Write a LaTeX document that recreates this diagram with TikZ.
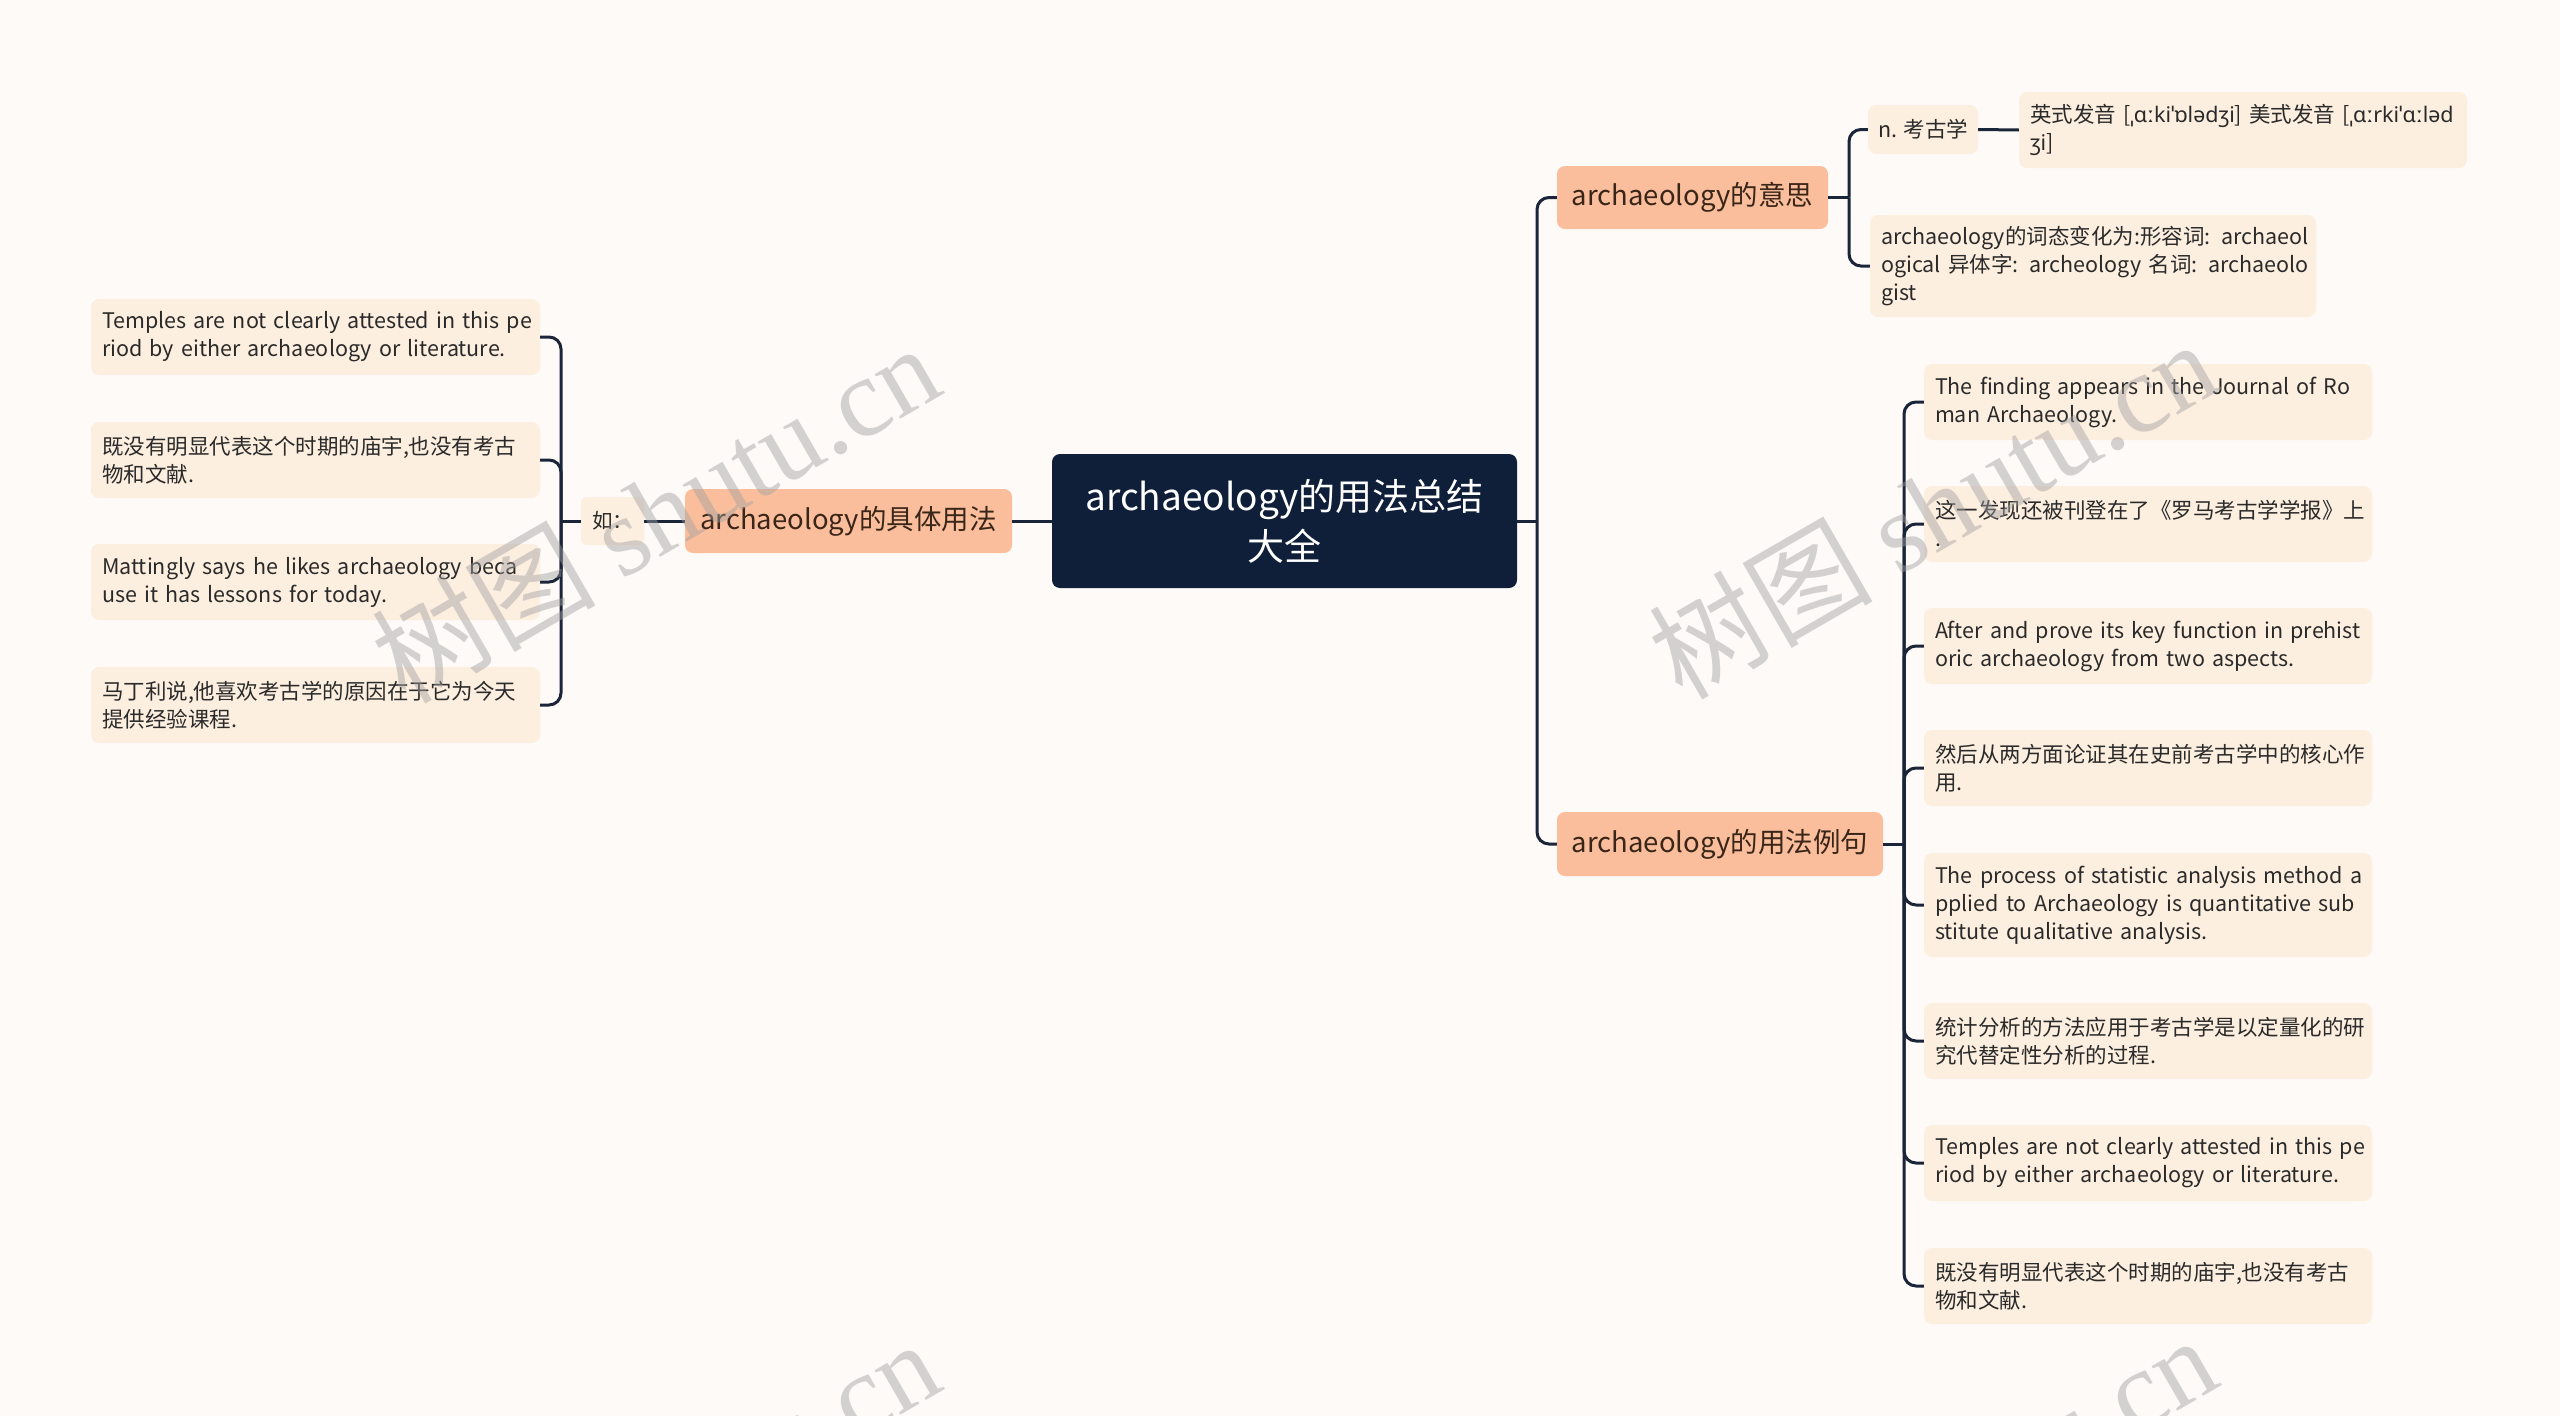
\documentclass[tikz,border=0pt]{standalone}
\usepackage{fontspec}
\setmainfont{Noto Sans CJK SC}
\newfontfamily\ipafont{Noto Sans}
\newfontfamily\wmserif{Liberation Serif}
\newfontfamily\wmcjk{Noto Sans CJK SC}
\newcommand\keepline[1]{\mbox{#1}}
\hfuzz=40pt
\definecolor{bgc}{HTML}{FEFAF8}
\definecolor{leafc}{HTML}{FDEFE0}
\definecolor{branchc}{HTML}{FBBE9C}
\definecolor{rootc}{HTML}{0F1F3A}
\definecolor{linec}{HTML}{1B2539}
\definecolor{textc}{HTML}{2A2A2A}
\definecolor{btextc}{HTML}{3A2618}
\definecolor{wmc}{HTML}{A0A0A0}
\begin{document}
\begin{tikzpicture}[x=1pt,y=-1pt,
  conn/.style={draw=linec, line width=3pt, rounded corners=12pt},
  leaf/.style={fill=leafc, rounded corners=8pt, text=textc,
    font=\fontsize{21.5}{28}\selectfont, align=left, inner xsep=11pt,
    inner ysep=3pt, text width=#1},
  leaf/.default=426pt,
  branch/.style={fill=branchc, rounded corners=8pt, text=btextc,
    font=\fontsize{27.5}{32}\selectfont, inner sep=0pt},
  rootbox/.style={fill=rootc, rounded corners=8pt, text=white,
    font=\fontsize{37}{50}\selectfont, align=center, inner sep=0pt},
  wm/.style={text=wmc, opacity=0.45, rotate=30, inner sep=0pt}]
\fill[bgc] (0,0) rectangle (2560,1416);
\useasboundingbox (0,0) rectangle (2560,1416);

% root
\node[rootbox, minimum width=465pt, minimum height=134pt] (root) at (1284.5,521)
  {archaeology的用法总结\\大全};

% left side
\node[branch, minimum width=327pt, minimum height=64pt] (b0) at (848.5,521) {archaeology的具体用法};
\node[fill=leafc, rounded corners=6pt, text=textc, font=\fontsize{20.5}{24}\selectfont,
  minimum width=63pt, minimum height=48pt, inner sep=0pt] (ru) at (612.5,521) {如：};
\node[leaf=427pt, minimum height=76pt] (l1) at (315.5,337)
  {\keepline{Temples are not clearly attested in this pe}\\\keepline{riod by either archaeology or literature.}};
\node[leaf=427pt, minimum height=76pt] (l2) at (315.5,460)
  {既没有明显代表这个时期的庙宇,也没有考古\\物和文献.};
\node[leaf=427pt, minimum height=76pt] (l3) at (315.5,582)
  {\keepline{Mattingly says he likes archaeology beca}\\\keepline{use it has lessons for today.}};
\node[leaf=427pt, minimum height=76pt] (l4) at (315.5,705)
  {马丁利说,他喜欢考古学的原因在于它为今天\\提供经验课程.};

% right side branches
\node[branch, minimum width=271pt, minimum height=63pt] (b1) at (1692.5,197.5) {archaeology的意思};
\node[branch, minimum width=326pt, minimum height=64pt] (b2) at (1720,844) {archaeology的用法例句};

% meaning
\node[fill=leafc, rounded corners=8pt, text=textc, font=\fontsize{21.5}{28}\selectfont,
  minimum width=110pt, minimum height=49pt, inner sep=0pt] (noun) at (1923,129.5) {n. 考古学};
\node[leaf, minimum height=76pt] (pron) at (2243,130)
  {\keepline{英式发音 [{\ipafont ˌɑːkiˈɒlədʒi}] 美式发音 [{\ipafont ˌɑːrkiˈɑːləd}}\\\keepline{{\ipafont ʒi}]}};
\node[leaf=424pt, minimum height=102pt] (forms) at (2093,266)
  {\keepline{archaeology的词态变化为:形容词: archaeol}\\\keepline{ogical 异体字: archeology 名词: archaeolo}\\\keepline{gist}};

% examples
\node[leaf, minimum height=76pt] (r1) at (2148,402)
  {\keepline{The finding appears in the Journal of Ro}\\\keepline{man Archaeology.}};
\node[leaf, minimum height=76pt] (r2) at (2148,524)
  {这一发现还被刊登在了《罗马考古学学报》上\\.};
\node[leaf, minimum height=76pt] (r3) at (2148,646)
  {\keepline{After and prove its key function in prehist}\\\keepline{oric archaeology from two aspects.}};
\node[leaf, minimum height=76pt] (r4) at (2148,768)
  {然后从两方面论证其在史前考古学中的核心作\\用.};
\node[leaf, minimum height=104pt] (r5) at (2148,905)
  {\keepline{The process of statistic analysis method a}\\\keepline{pplied to Archaeology is quantitative sub}\\\keepline{stitute qualitative analysis.}};
\node[leaf, minimum height=76pt] (r6) at (2148,1041)
  {统计分析的方法应用于考古学是以定量化的研\\究代替定性分析的过程.};
\node[leaf, minimum height=76pt] (r7) at (2148,1163)
  {\keepline{Temples are not clearly attested in this pe}\\\keepline{riod by either archaeology or literature.}};
\node[leaf, minimum height=76pt] (r8) at (2148,1286)
  {既没有明显代表这个时期的庙宇,也没有考古\\物和文献.};

% junction coordinates
\coordinate (jr) at (1537,521);
\coordinate (jl) at (561,521);
\coordinate (jm) at (1849,197.5);
\coordinate (je) at (1904,844);

% connectors
\draw[conn] (root.west) -- (b0.east);
\draw[conn] (b0.west) -- (ru.east);
\draw[conn] (ru.west) -- (jl);
\foreach \n in {l1,l2,l3,l4} \draw[conn] (jl) |- (\n.east);
\draw[conn] (root.east) -- (jr);
\draw[conn] (jr) |- (b1.west);
\draw[conn] (jr) |- (b2.west);
\draw[conn] (b1.east) -- (jm);
\draw[conn] (jm) |- (noun.west);
\draw[conn] (jm) |- (forms.west);
\draw[conn] (noun.east) -- (pron.west);
\draw[conn] (b2.east) -- (je);
\foreach \n in {r1,r2,r3,r4,r5,r6,r7,r8} \draw[conn] (je) |- (\n.west);

% watermarks
\begin{scope}
\clip (0,0) rectangle (2560,1416);
\node[wm] (w1) at (655,512) {\fontsize{112}{112}\selectfont\wmcjk 树图 \wmserif shutu.cn};
\node[wm] (w2) at (1932,508) {\fontsize{112}{112}\selectfont\wmcjk 树图 \wmserif shutu.cn};
\node[wm] (w3) at (655,1508) {\fontsize{112}{112}\selectfont\wmcjk 树图 \wmserif shutu.cn};
\node[wm] (w4) at (1932,1504) {\fontsize{112}{112}\selectfont\wmcjk 树图 \wmserif shutu.cn};
\end{scope}
\end{tikzpicture}
\end{document}
